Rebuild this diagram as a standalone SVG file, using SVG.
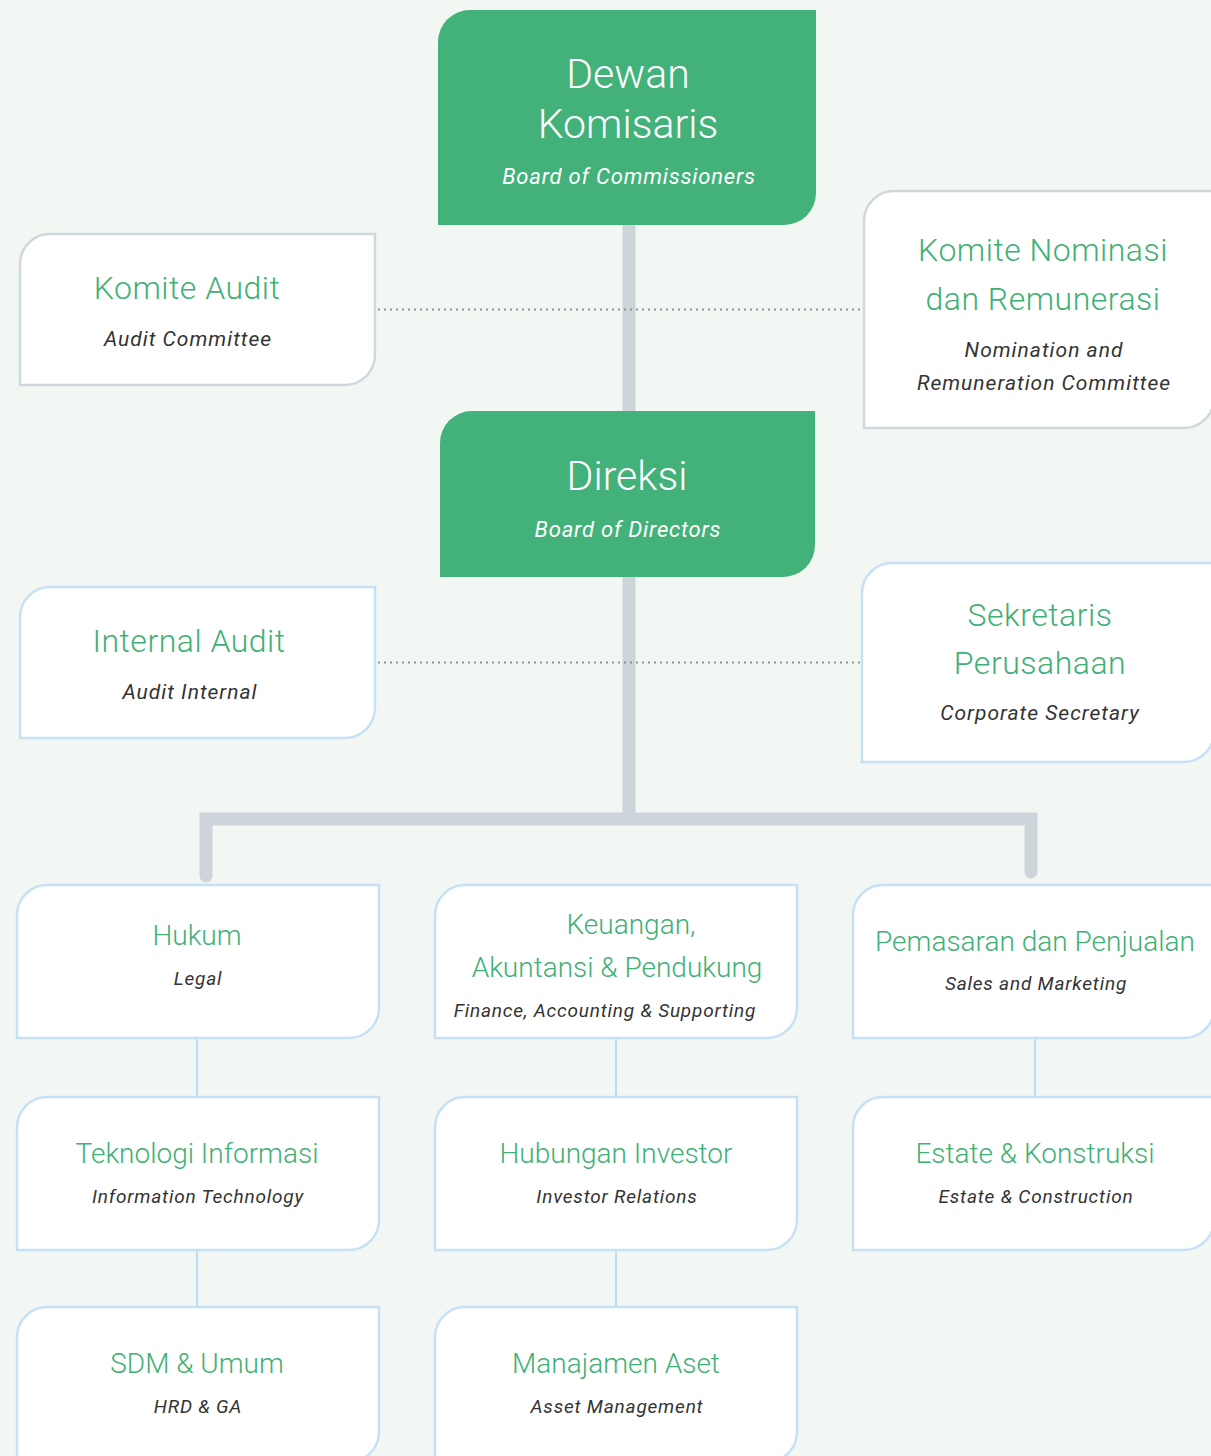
<svg xmlns="http://www.w3.org/2000/svg" width="1211" height="1456" viewBox="0 0 1211 1456">
<style>
.bg{fill:#f3f7f4}
.gbox{fill:#42b27a}
.wbox{fill:#ffffff;stroke-width:2.5}
.gray{stroke:#d0d8de}
.blue{stroke:#c6e1f5}
.t{font-family:Roboto,"Open Sans",sans-serif;text-anchor:middle}
.hw{fill:#ffffff;font-size:41px;font-weight:300}
.sw{fill:#ffffff;font-size:22px;font-style:italic;letter-spacing:0.8px}
.hg{fill:#3fb074;font-size:32px;font-weight:300;letter-spacing:0.5px}
.hg2{fill:#3fb074;font-size:28px;font-weight:300}
.sd{fill:#333333;font-size:21px;font-style:italic;letter-spacing:1px}
.sd2{fill:#333333;font-size:19px;font-style:italic;letter-spacing:0.8px}
.thick{fill:none;stroke:#cdd5db;stroke-width:13;stroke-linecap:round}
.thin{fill:none;stroke:#a9d5f2;stroke-width:1.5}
.dot{fill:none;stroke:#8c9399;stroke-width:2;stroke-dasharray:2 4}
</style>
<rect class="bg" x="0" y="0" width="1211" height="1456"/>
<g id="connectors">
<path class="thick" d="M629 226 V411" stroke-linecap="butt"/>
<path class="thick" d="M629 577 V819" stroke-linecap="butt"/>
<path class="thick" d="M206 876 V819 H1031 V872" stroke-linejoin="miter"/>
<path class="dot" d="M378 309.5 H862"/>
<path class="dot" d="M378 662.5 H860"/>
<path class="thin" d="M197 1038 V1097 M197 1250 V1307 M616 1038 V1097 M616 1250 V1307 M1035 1038 V1097"/>
</g>
<g id="dewan-komisaris">
<path class="gbox" d="M438 42 A32 32 0 0 1 470 10 H816 V193 A32 32 0 0 1 784 225 H438 Z"/>
<text class="t hw" x="628" y="88">Dewan</text>
<text class="t hw" x="628" y="138">Komisaris</text>
<text class="t sw" x="629" y="184">Board of Commissioners</text>
</g>
<g id="komite-audit">
<path class="wbox gray" d="M20 264 A30 30 0 0 1 50 234 H375 V355 A30 30 0 0 1 345 385 H20 Z"/>
<text class="t hg" x="187" y="299">Komite Audit</text>
<text class="t sd" x="188" y="346">Audit Committee</text>
</g>
<g id="komite-nominasi">
<path class="wbox gray" d="M864 221 A30 30 0 0 1 894 191 H1214 V398 A30 30 0 0 1 1184 428 H864 Z"/>
<text class="t hg" x="1043" y="261">Komite Nominasi</text>
<text class="t hg" x="1043" y="310">dan Remunerasi</text>
<text class="t sd" x="1044" y="357">Nomination and</text>
<text class="t sd" x="1044" y="390">Remuneration Committee</text>
</g>
<g id="direksi">
<path class="gbox" d="M440 443 A32 32 0 0 1 472 411 H815 V545 A32 32 0 0 1 783 577 H440 Z"/>
<text class="t hw" x="627" y="490">Direksi</text>
<text class="t sw" x="628" y="537">Board of Directors</text>
</g>
<g id="internal-audit">
<path class="wbox blue" d="M20 617 A30 30 0 0 1 50 587 H375 V708 A30 30 0 0 1 345 738 H20 Z"/>
<text class="t hg" x="189" y="652">Internal Audit</text>
<text class="t sd" x="190" y="699">Audit Internal</text>
</g>
<g id="sekretaris-perusahaan">
<path class="wbox blue" d="M862 593 A30 30 0 0 1 892 563 H1214 V732 A30 30 0 0 1 1184 762 H862 Z"/>
<text class="t hg" x="1040" y="626">Sekretaris</text>
<text class="t hg" x="1040" y="674">Perusahaan</text>
<text class="t sd" x="1040" y="720">Corporate Secretary</text>
</g>
<g id="hukum">
<path class="wbox blue" d="M17 915 A30 30 0 0 1 47 885 H379 V1008 A30 30 0 0 1 349 1038 H17 Z"/>
<text class="t hg2" x="197" y="945">Hukum</text>
<text class="t sd2" x="198" y="985">Legal</text>
</g>
<g id="keuangan">
<path class="wbox blue" d="M435 915 A30 30 0 0 1 465 885 H797 V1008 A30 30 0 0 1 767 1038 H435 Z"/>
<text class="t hg2" x="631" y="934">Keuangan,</text>
<text class="t hg2" x="617" y="977">Akuntansi &amp; Pendukung</text>
<text class="t sd2" x="605" y="1017">Finance, Accounting &amp; Supporting</text>
</g>
<g id="pemasaran">
<path class="wbox blue" d="M853 915 A30 30 0 0 1 883 885 H1214 V1008 A30 30 0 0 1 1184 1038 H853 Z"/>
<text class="t hg2" x="1035" y="951">Pemasaran dan Penjualan</text>
<text class="t sd2" x="1036" y="990">Sales and Marketing</text>
</g>
<g id="teknologi-informasi">
<path class="wbox blue" d="M17 1127 A30 30 0 0 1 47 1097 H379 V1220 A30 30 0 0 1 349 1250 H17 Z"/>
<text class="t hg2" x="197" y="1163">Teknologi Informasi</text>
<text class="t sd2" x="198" y="1203">Information Technology</text>
</g>
<g id="hubungan-investor">
<path class="wbox blue" d="M435 1127 A30 30 0 0 1 465 1097 H797 V1220 A30 30 0 0 1 767 1250 H435 Z"/>
<text class="t hg2" x="616" y="1163">Hubungan Investor</text>
<text class="t sd2" x="617" y="1203">Investor Relations</text>
</g>
<g id="estate-konstruksi">
<path class="wbox blue" d="M853 1127 A30 30 0 0 1 883 1097 H1214 V1220 A30 30 0 0 1 1184 1250 H853 Z"/>
<text class="t hg2" x="1035" y="1163">Estate &amp; Konstruksi</text>
<text class="t sd2" x="1036" y="1203">Estate &amp; Construction</text>
</g>
<g id="sdm-umum">
<path class="wbox blue" d="M17 1337 A30 30 0 0 1 47 1307 H379 V1432 A30 30 0 0 1 349 1462 H17 Z"/>
<text class="t hg2" x="197" y="1373">SDM &amp; Umum</text>
<text class="t sd2" x="198" y="1413">HRD &amp; GA</text>
</g>
<g id="manajamen-aset">
<path class="wbox blue" d="M435 1337 A30 30 0 0 1 465 1307 H797 V1432 A30 30 0 0 1 767 1462 H435 Z"/>
<text class="t hg2" x="616" y="1373">Manajamen Aset</text>
<text class="t sd2" x="617" y="1413">Asset Management</text>
</g>
</svg>
